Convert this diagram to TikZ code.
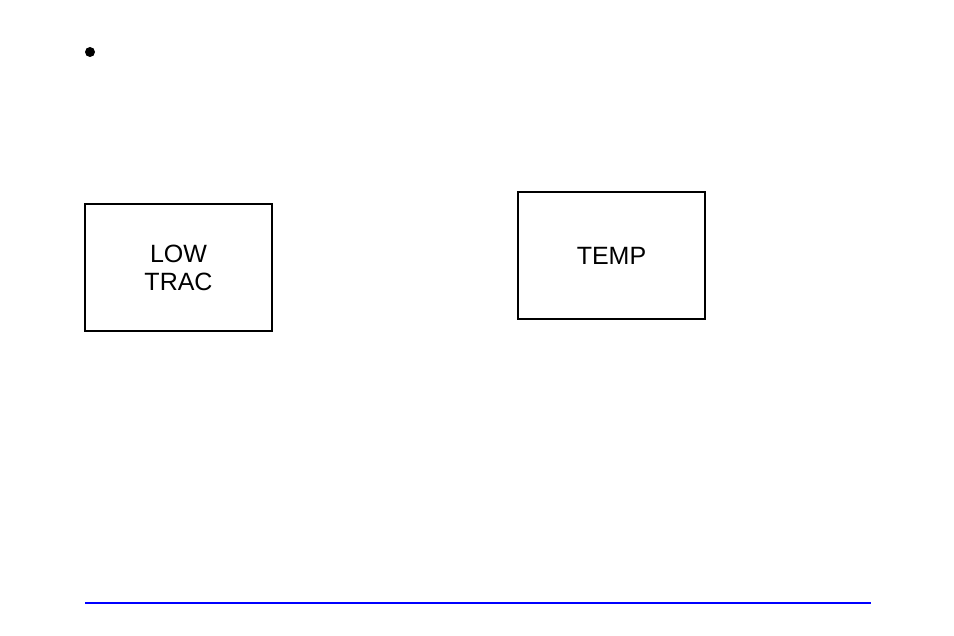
\documentclass[tikz,border=0pt]{standalone}
\usepackage{fontspec}
\setmainfont{Liberation Sans}
\usetikzlibrary{positioning}

\begin{document}
\begin{tikzpicture}[
    x=0.5pt, y=-0.5pt,
    font=\fontsize{12.5}{14}\selectfont,
    lamp/.style={draw=black, line width=1pt, align=center,
                 minimum width=93.5pt, minimum height=63.5pt, inner sep=0pt},
    rule/.style={draw=blue, line width=1.1pt}
  ]
  \useasboundingbox (0,0) rectangle (954,636);

  % ===== BULLET =====
  \fill (90,52) circle (2.5pt);

  % ===== LAMP BOXES =====
  \node[lamp] (lowtrac) at (178.5,267.5) {LOW\\TRAC};
  \node[lamp] (temp)    at (611.5,256)   {TEMP};

  % ===== FOOTER RULE =====
  \coordinate (ruleL) at (85,603);
  \coordinate (ruleR) at (871,603);
  \draw[rule] (ruleL) -- (ruleR);

\end{tikzpicture}
\end{document}
